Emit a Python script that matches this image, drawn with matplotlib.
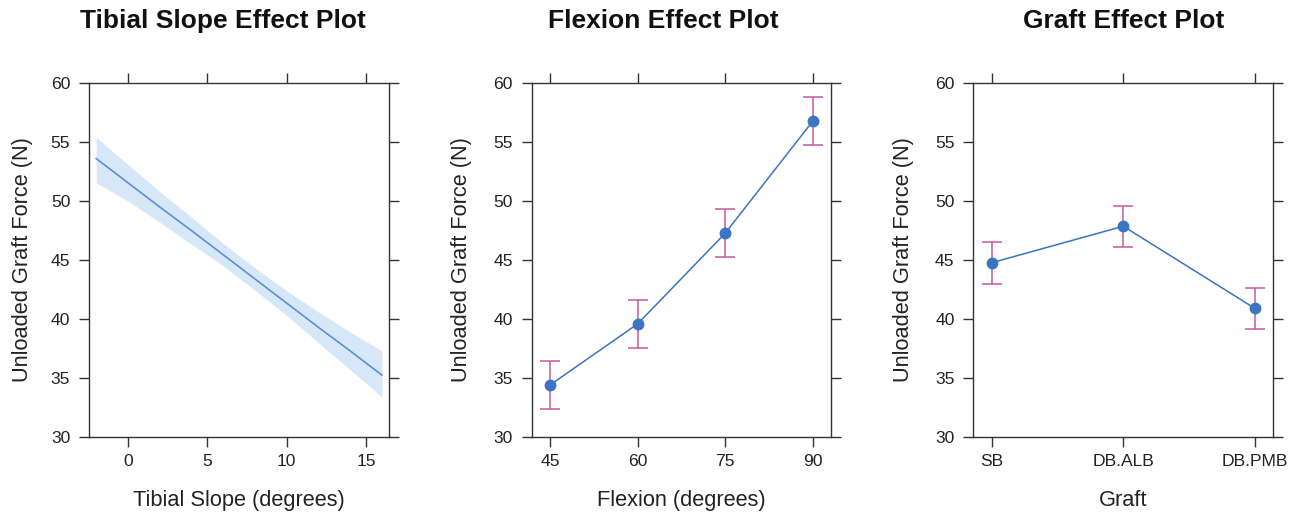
import matplotlib
matplotlib.use("Agg")
import matplotlib.pyplot as plt
import numpy as np

plt.rcParams['font.family'] = ['Liberation Sans', 'DejaVu Sans']

# ---- data ----
slope_x = [-2, 0, 2, 4, 6, 8, 10, 12, 14, 16]
slope_fit = [53.6, 51.55, 49.5, 47.5, 45.45, 43.4, 41.35, 39.3, 37.3, 35.25]
slope_lo = [51.55, 50.0, 48.2, 46.35, 44.5, 42.45, 40.3, 38.0, 35.7, 33.4]
slope_hi = [55.4, 53.1, 50.8, 48.65, 46.4, 44.35, 42.4, 40.6, 38.9, 37.3]

flex_x = [45, 60, 75, 90]
flex_fit = [34.41, 39.58, 47.26, 56.75]
flex_lo = [32.37, 37.54, 45.25, 54.72]
flex_hi = [36.44, 41.60, 49.32, 58.79]

graft_cats = ["SB", "DB.ALB", "DB.PMB"]
graft_fit = [44.77, 47.86, 40.90]
graft_lo = [42.97, 46.10, 39.15]
graft_hi = [46.53, 49.60, 42.66]

yticks = [30, 35, 40, 45, 50, 55, 60]
titles = ["Tibial Slope Effect Plot", "Flexion Effect Plot", "Graft Effect Plot"]
xlabels = ["Tibial Slope (degrees)", "Flexion (degrees)", "Graft"]
ylabel = "Unloaded Graft Force (N)"

# ---- style ----
W, H = 1298, 515
fig = plt.figure(figsize=(W / 100, H / 100), dpi=100)
frame_col = "#333333"
line_col = "#3B74C2"
band_col = "#D6E8F7"
err_col = "#C45AA0"

def make_ax(left_px, right_px):
    top_px, bot_px = 83, 437
    ax = fig.add_axes([left_px / W, 1 - bot_px / H, (right_px - left_px) / W, (bot_px - top_px) / H])
    ax.set_ylim(30, 60)
    ax.set_yticks(yticks)
    for s in ax.spines.values():
        s.set_color(frame_col)
        s.set_linewidth(1.0)
    ax.tick_params(which="both", direction="out", length=7.5, width=1.0, color=frame_col,
                   top=True, right=True, labeltop=False, labelright=False,
                   labelsize=12.6, labelcolor="#222222")
    ax.tick_params(axis="x", pad=5)
    ax.tick_params(axis="y", pad=6)
    return ax

axes = [make_ax(89, 389), make_ax(531.7, 830.7), make_ax(973.3, 1273.3)]
title_x = [222.5, 663.5, 1123.5]
ylab_x = [-0.22, -0.234, -0.233]

# panel 1
ax = axes[0]
ax.fill_between(slope_x, slope_lo, slope_hi, color=band_col, lw=0)
ax.plot(slope_x, slope_fit, color="#5B8FD3", lw=1.2)
ax.set_xlim(-2.45, 16.45)
ax.set_xticks([0, 5, 10, 15])

# panel 2
ax = axes[1]
yerr = [np.array(flex_fit) - np.array(flex_lo), np.array(flex_hi) - np.array(flex_fit)]
ax.errorbar(flex_x, flex_fit, yerr=yerr, fmt="none", ecolor=err_col, elinewidth=1.1,
            capsize=7, capthick=1.1, zorder=2)
ax.plot(flex_x, flex_fit, color=line_col, lw=1.1, marker="o", ms=7.5, zorder=3)
ax.set_xlim(41.85, 93.1)
ax.set_xticks(flex_x)

# panel 3
ax = axes[2]
gx = np.arange(1, len(graft_cats) + 1)
yerr = [np.array(graft_fit) - np.array(graft_lo), np.array(graft_hi) - np.array(graft_fit)]
ax.errorbar(gx, graft_fit, yerr=yerr, fmt="none", ecolor=err_col, elinewidth=1.1,
            capsize=7, capthick=1.1, zorder=2)
ax.plot(gx, graft_fit, color=line_col, lw=1.1, marker="o", ms=7.5, zorder=3)
ax.set_xlim(0.86, 3.14)
ax.set_xticks(gx)
ax.set_xticklabels(graft_cats)

for i, ax in enumerate(axes):
    ax.text(0.5, -0.178, xlabels[i], transform=ax.transAxes, ha="center", va="center",
            fontsize=15.7, color="#222222")
    ax.text(ylab_x[i], 0.5, ylabel, transform=ax.transAxes, ha="center", va="center",
            rotation=90, fontsize=15.7, color="#222222")
    fig.text(title_x[i] / W, 1 - 21 / H, titles[i], ha="center", va="center",
             fontsize=19, fontweight="bold", color="#111111")

fig.savefig("out.png", dpi=100)
